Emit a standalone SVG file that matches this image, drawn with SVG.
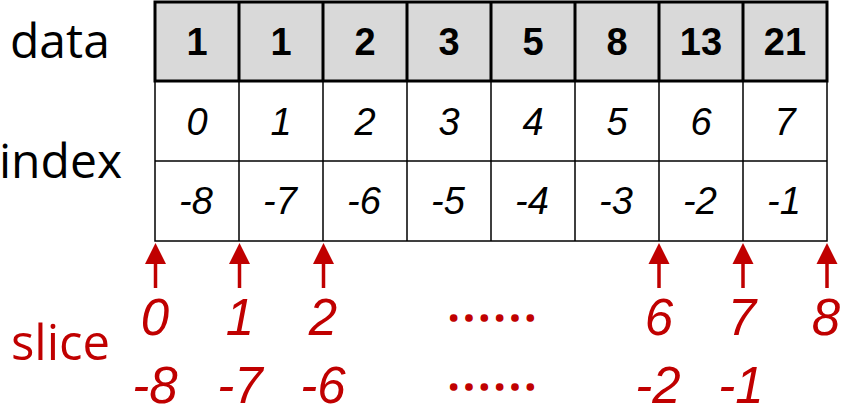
<svg xmlns="http://www.w3.org/2000/svg" width="842" height="406" viewBox="0 0 842 406">
<style>
.lbl{font-family:"Open Sans","Liberation Sans",sans-serif;font-size:48px;fill:#000}
.dat{font-family:"Liberation Sans",Arial,sans-serif;font-weight:bold;font-size:38px;fill:#000;text-anchor:middle}
.idx{font-family:"Liberation Sans",Arial,sans-serif;font-style:italic;font-size:38px;fill:#000;text-anchor:middle}
.sl{font-family:"Liberation Sans",Arial,sans-serif;font-style:italic;font-size:51px;fill:#c00000;text-anchor:middle}
.dots{font-family:"Noto Sans CJK SC",sans-serif;font-size:46px;fill:#c00000;stroke:#c00000;stroke-width:1.5;text-anchor:middle}
.thin{stroke:#000;stroke-width:1.5;fill:none}
.thick{stroke:#000;stroke-width:3;fill:none}
.arr{stroke:#c00000;stroke-width:3.5}
</style>
<defs>
<g id="arrowShape"><polygon points="0,243 -10.5,264 10.5,264" fill="#c00000"/><line x1="0" y1="263" x2="0" y2="288" class="arr"/></g>
</defs>
<rect width="842" height="406" fill="#fff"/>
<g id="labels">
<text class="lbl" x="10" y="58">data</text>
<text class="lbl" x="-1" y="178">index</text>
<text class="lbl" x="11" y="360" style="fill:#c00000;font-size:49px">slice</text>
</g>
<g id="table">
<g id="index-rows">
<rect x="155" y="81" width="672" height="160" class="thin"/>
<line x1="155" y1="161" x2="827" y2="161" class="thin"/>
<path class="thin" d="M239,81V241M323,81V241M407,81V241M491,81V241M575,81V241M659,81V241M743,81V241"/>
</g>
<g id="data-row">
<rect x="155" y="2" width="672" height="79" class="thick" style="fill:#d9d9d9"/>
<path class="thick" d="M239,2V81M323,2V81M407,2V81M491,2V81M575,2V81M659,2V81M743,2V81"/>
</g>
<g id="data-values">
<text class="dat" x="197" y="55">1</text>
<text class="dat" x="281" y="55">1</text>
<text class="dat" x="365" y="55">2</text>
<text class="dat" x="449" y="55">3</text>
<text class="dat" x="533" y="55">5</text>
<text class="dat" x="617" y="55">8</text>
<text class="dat" x="701" y="55">13</text>
<text class="dat" x="785" y="55">21</text>
</g>
<g id="pos-index">
<text class="idx" x="197" y="135">0</text>
<text class="idx" x="281" y="135">1</text>
<text class="idx" x="365" y="135">2</text>
<text class="idx" x="449" y="135">3</text>
<text class="idx" x="533" y="135">4</text>
<text class="idx" x="617" y="135">5</text>
<text class="idx" x="701" y="135">6</text>
<text class="idx" x="785" y="135">7</text>
</g>
<g id="neg-index">
<text class="idx" x="196" y="214">-8</text>
<text class="idx" x="280" y="214">-7</text>
<text class="idx" x="364" y="214">-6</text>
<text class="idx" x="448" y="214">-5</text>
<text class="idx" x="532" y="214">-4</text>
<text class="idx" x="616" y="214">-3</text>
<text class="idx" x="700" y="214">-2</text>
<text class="idx" x="784" y="214">-1</text>
</g>
</g>
<g id="connectors">
<use href="#arrowShape" x="155.5"/>
<use href="#arrowShape" x="239.5"/>
<use href="#arrowShape" x="323.5"/>
<use href="#arrowShape" x="659"/>
<use href="#arrowShape" x="743"/>
<use href="#arrowShape" x="827"/>
</g>
<g id="slice-labels">
<text class="sl" x="155" y="335">0</text>
<text class="sl" x="240" y="335">1</text>
<text class="sl" x="323" y="335">2</text>
<text class="dots" x="492" y="335">……</text>
<text class="sl" x="659" y="335">6</text>
<text class="sl" x="742" y="335">7</text>
<text class="sl" x="826" y="335">8</text>
<text class="sl" x="155" y="403">-8</text>
<text class="sl" x="240" y="403">-7</text>
<text class="sl" x="323" y="403">-6</text>
<text class="dots" x="492" y="404">……</text>
<text class="sl" x="658" y="403">-2</text>
<text class="sl" x="741" y="403">-1</text>
</g>
</svg>
